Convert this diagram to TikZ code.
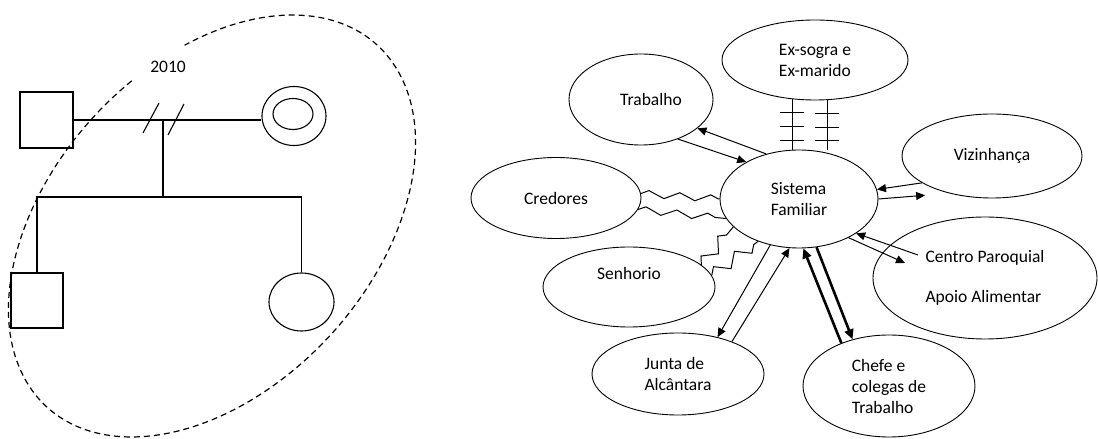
\documentclass[tikz,border=0pt]{standalone}
\usepackage{fontspec}
\setmainfont{Carlito}
\usetikzlibrary{shapes.geometric, arrows.meta, decorations.pathmorphing, decorations.markings, calc}

\begin{document}
\begin{tikzpicture}[x=1pt, y=1pt,
    every node/.style={font=\fontsize{17.5}{21}\selectfont},
    homem/.style={draw, line width=1.1pt, inner sep=0pt},
    mulher/.style={draw, ellipse, line width=1.1pt, inner sep=0pt},
    sistema/.style={draw, ellipse, line width=0.9pt, inner sep=0pt, align=left},
    seta/.style={-{Triangle[length=9pt, width=8pt]}, line width=1pt},
    setaforte/.style={-{Triangle[length=10pt, width=9pt]}, line width=2.6pt},
    conflito/.style={decorate, decoration={zigzag, segment length=31pt, amplitude=3.5pt}, line width=1pt},
    conflitob/.style={decorate, decoration={zigzag, segment length=26pt, amplitude=6pt}, line width=1pt},
    rompido/.style={line width=1.1pt, postaction={decorate, decoration={markings,
        mark=at position 0.27 with {\draw[line width=1.1pt] (0,-12pt) -- (0,12pt);},
        mark=at position 0.55 with {\draw[line width=1.1pt] (0,-12pt) -- (0,12pt);},
        mark=at position 0.82 with {\draw[line width=1.1pt] (0,-12pt) -- (0,12pt);}}}}
]
    \useasboundingbox (0,0) rectangle (1098,439);

    % genograma
    \node[homem, minimum width=53pt, minimum height=56pt] (pai) at (46.5,319) {};
    \node[mulher, minimum width=64pt, minimum height=59pt] (mae) at (294,323) {};
    \draw[line width=1.1pt] (mae.center) ++(-1,2) ellipse (20 and 15.5);
    \node[homem, minimum width=52pt, minimum height=55pt] (filho) at (37,138.5) {};
    \node[mulher, minimum width=65pt, minimum height=58pt] (filha) at (301.5,137) {};

    % casal separado
    \draw[line width=1.1pt] (pai.east) -- (pai.east -| mae.west);
    \draw[line width=1.1pt] (143,306) -- (159,336);
    \draw[line width=1.1pt] (168,304) -- (184,335);
    \coordinate (casal) at (163,319);
    \coordinate (filhos) at (163,242);
    \draw[line width=1.1pt] (casal) -- (filhos);
    \draw[line width=1.1pt] (filho.north) |- (filhos) -| (filha.north);

    % agregado em 2010
    \begin{scope}[shift={(212,213)}, rotate=47.6]
        \draw[line width=1.2pt, dash pattern=on 6pt off 4pt] (77.5:245 and 161)
            arc[start angle=77.5, end angle=422, x radius=245, y radius=161];
    \end{scope}
    \node (ano) at (168,372) {2010};

    % ecomapa
    \node[sistema, minimum width=158pt, minimum height=98pt] (sis) at (799,240) {Sistema\\Familiar};
    \node[sistema, minimum width=186pt, minimum height=80pt] (exs) at (815,379) {Ex-sogra e\\Ex-marido};
    \node[sistema, minimum width=144pt, minimum height=91pt] (trab) at (641,339.5) {\hspace*{20pt}Trabalho};
    \node[sistema, minimum width=180pt, minimum height=84pt] (viz) at (992,283) {Vizinhança};
    \node[sistema, minimum width=224pt, minimum height=122pt] (cent) at (985,161) {Centro Paroquial\\[19pt]Apoio Alimentar};
    \node[sistema, minimum width=170pt, minimum height=81pt] (cred) at (556,241) {Credores};
    \node[sistema, minimum width=172pt, minimum height=80pt] (senh) at (629,152) {Senhorio\\\strut};
    \node[sistema, minimum width=172pt, minimum height=82pt] (junta) at (678,65) {Junta de\\Alcântara};
    \node[sistema, minimum width=172pt, minimum height=102pt] (chefe) at (889,53) {Chefe e\\colegas de\\Trabalho};

    % relacao rompida
    \draw[rompido] (exs.-120) -- (exs.-120 |- sis.north);
    \draw[rompido] (exs.-73) -- (exs.-73 |- sis.north);

    % trabalho
    \draw[seta] (sis.126) -- (trab.-27);
    \draw[seta] (trab.-47) -- (sis.145);

    % relacoes de conflito
    \draw[conflito] (cred.3) -- (sis.180);
    \draw[conflito] (cred.-8) -- (sis.195);
    \draw[conflitob] (senh.17) -- (sis.203);
    \draw[conflitob] (senh.8) -- (sis.226);

    % vizinhanca
    \draw[seta] (viz.201) -- (sis.7.5);
    \draw[seta, shorten >=24pt] (sis.0) -- (viz.221);

    % centro paroquial
    \draw[seta] ($(cent.center)+(-67,23)$) -- (sis.-31);
    \draw[seta] (sis.-38) -- ($(cent.center)+(-80,15)$);

    % junta de freguesia
    \draw[seta] (sis.238) -- (junta.43);
    \draw[seta] (junta.31) -- (sis.259);

    % chefe e colegas
    \draw[setaforte] (chefe.138) -- (sis.-85);
    \draw[setaforte] (sis.-70) -- (chefe.128);
\end{tikzpicture}
\end{document}
